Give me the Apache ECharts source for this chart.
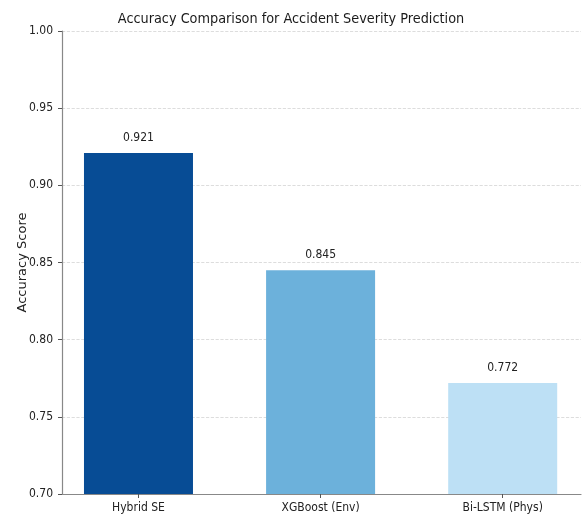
<!DOCTYPE html>
<html>
<head>
<meta charset="utf-8">
<script src="https://cdn.jsdelivr.net/npm/echarts@6/dist/echarts.min.js"></script>
<style>
  html, body { margin: 0; padding: 0; background: #fff; }
  #main { width: 582px; height: 518px; }
</style>
</head>
<body>
<div id="main"></div>
<script>
// data
const models = ['Hybrid SE', 'XGBoost (Env)', 'Bi-LSTM (Phys)'];
const accuracy = [0.921, 0.845, 0.772];
const barColors = ['#074c95', '#6cb1db', '#bde0f5'];

const font = '"Liberation Sans Narrow", "DejaVu Sans Condensed", sans-serif';

const chart = echarts.init(document.getElementById('main'));

const option = {
  backgroundColor: '#fff',
  animation: false,
  title: {
    text: 'Accuracy Comparison for Accident Severity Prediction',
    left: 'center',
    top: 7,
    textStyle: { fontFamily: font, fontSize: 14.3, fontWeight: 'normal', color: '#1a1a1a' }
  },
  grid: { left: 62, right: 1, top: 31, bottom: 24, outerBoundsMode: 'none', containLabel: false },
  xAxis: {
    type: 'value',
    min: -0.42,
    max: 2.43,
    splitLine: { show: false },
    axisLine: { show: true, onZero: false, lineStyle: { color: '#888', width: 1.2 } },
    axisTick: { show: true, length: 4, customValues: models.map((m, i) => i), lineStyle: { color: '#555' } },
    axisLabel: {
      customValues: models.map((m, i) => i),
      formatter: v => models[Math.round(v)],
      fontFamily: font, fontSize: 12, color: '#222', margin: 8
    }
  },
  yAxis: {
    type: 'value',
    min: 0.70,
    max: 1.00,
    interval: 0.05,
    name: 'Accuracy Score',
    nameLocation: 'middle',
    nameGap: 33,
    nameMoveOverlap: false,
    nameTextStyle: { fontFamily: '"DejaVu Sans", sans-serif', fontSize: 13, color: '#222' },
    axisLine: { show: true, onZero: false, lineStyle: { color: '#888', width: 1.2 } },
    axisTick: { show: true, length: 4, lineStyle: { color: '#555' } },
    axisLabel: {
      formatter: v => v.toFixed(2),
      fontFamily: font, fontSize: 12, color: '#222', margin: 9
    },
    splitLine: { show: true, lineStyle: { type: 'dashed', color: '#d4d4d4', width: 0.8 } }
  },
  series: [{
    type: 'bar',
    barWidth: 109,
    data: accuracy.map((v, i) => ({ value: [i, v], itemStyle: { color: barColors[i] } })),
    label: {
      show: true,
      position: 'top',
      distance: 9,
      formatter: p => p.value[1].toFixed(3),
      fontFamily: font, fontSize: 12, color: '#222'
    }
  }]
};

chart.setOption(option);
</script>
</body>
</html>
